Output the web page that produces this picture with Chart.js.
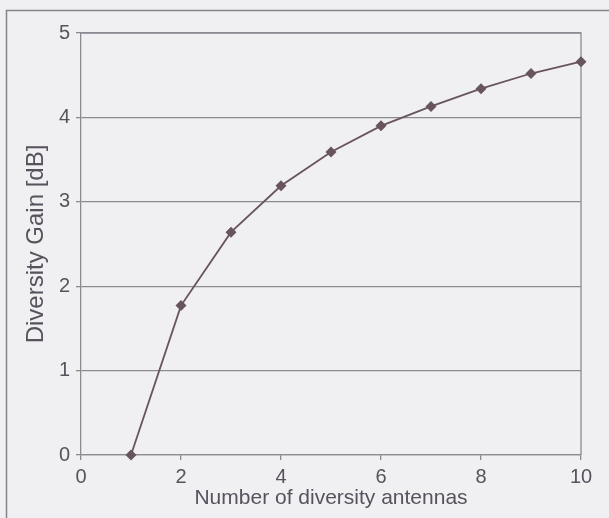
<!DOCTYPE html>
<html>
<head>
<meta charset="utf-8">
<script src="https://cdn.jsdelivr.net/npm/chart.js@4/dist/chart.umd.min.js"></script>
<style>
  html, body { margin: 0; padding: 0; background: #f0eff2; }
  #wrap { width: 609px; height: 518px; }
</style>
</head>
<body>
<div id="wrap"><canvas id="c" width="609" height="518"></canvas></div>
<script>
// Diversity gain versus number of receive antennas
const antennas = [1, 2, 3, 4, 5, 6, 7, 8, 9, 10];
const gainDb = [0, 1.77, 2.64, 3.19, 3.59, 3.90, 4.13, 4.34, 4.52, 4.66];
const xTicks = [0, 2, 4, 6, 8, 10];
const yTicks = [0, 1, 2, 3, 4, 5];

const ink = '#57525c';
const rule = '#8d8b92';
const mark = '#67545e';
const family = '"Liberation Sans", Arial, sans-serif';

// Page background, outer frame and the box around the plot area
const framePlugin = {
  id: 'frame',
  beforeDraw(chart) {
    const ctx = chart.ctx;
    ctx.save();
    ctx.fillStyle = '#f0eff2';
    ctx.fillRect(0, 0, chart.width, chart.height);
    ctx.strokeStyle = '#85838b';
    ctx.lineWidth = 1.5;
    ctx.beginPath();
    ctx.moveTo(6.5, chart.height + 2);
    ctx.lineTo(6.5, 10.5);
    ctx.lineTo(chart.width + 2, 10.5);
    ctx.stroke();
    ctx.restore();
  },
  beforeDatasetsDraw(chart) {
    const { left, top, right, bottom } = chart.chartArea;
    const ctx = chart.ctx;
    ctx.save();
    ctx.strokeStyle = rule;
    ctx.lineWidth = 1.3;
    ctx.beginPath();
    ctx.moveTo(left, top);
    ctx.lineTo(right, top);
    ctx.lineTo(right, bottom);
    ctx.stroke();
    ctx.restore();
  }
};

new Chart(document.getElementById('c'), {
  type: 'line',
  data: {
    datasets: [{
      data: antennas.map((n, i) => ({ x: n, y: gainDb[i] })),
      borderColor: mark,
      backgroundColor: mark,
      borderWidth: 1.8,
      pointStyle: 'rectRot',
      pointRadius: 5.5,
      pointBorderWidth: 0,
      tension: 0,
      clip: false
    }]
  },
  options: {
    responsive: false,
    animation: false,
    layout: { padding: { left: 0, top: 33, right: 28, bottom: 0 } },
    plugins: { legend: { display: false }, tooltip: { enabled: false } },
    scales: {
      x: {
        type: 'linear',
        min: 0,
        max: 10,
        afterFit(scale) { scale.height = 63; },
        afterBuildTicks(scale) { scale.ticks = xTicks.map(v => ({ value: v })); },
        grid: { drawOnChartArea: false, color: rule, tickLength: 5, lineWidth: 1.3 },
        border: { color: rule, width: 1.3 },
        ticks: { color: ink, font: { family, size: 20 }, padding: 5, maxRotation: 0 },
        title: {
          display: true,
          text: 'Number of diversity antennas',
          color: ink,
          font: { family, size: 21 },
          padding: { top: 0, bottom: 7 }
        }
      },
      y: {
        min: 0,
        max: 5,
        afterFit(scale) { scale.width = 81; },
        afterBuildTicks(scale) { scale.ticks = yTicks.map(v => ({ value: v })); },
        grid: { color: rule, tickLength: 5, lineWidth: 1.3 },
        border: { color: rule, width: 1.3 },
        ticks: { color: ink, font: { family, size: 20 }, padding: 6 },
        title: {
          display: true,
          text: 'Diversity Gain [dB]',
          color: ink,
          font: { family, size: 24 },
          padding: { top: 22, bottom: 22 }
        }
      }
    }
  },
  plugins: [framePlugin]
});
</script>
</body>
</html>
